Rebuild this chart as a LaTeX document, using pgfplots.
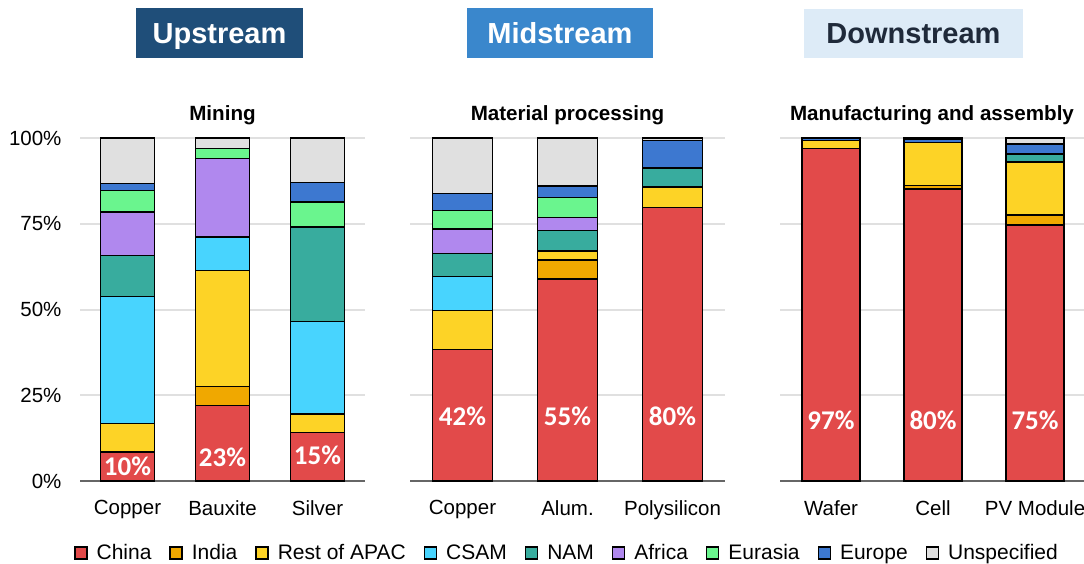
\documentclass[border=0pt]{standalone}
\usepackage{pgfplots}
\pgfplotsset{compat=1.18}
\usepackage{pgfplotstable}
\usepackage{fontspec}
\setmainfont{Liberation Sans}
\newfontfamily\carlito{Carlito}
\definecolor{cChina}{HTML}{E24A4A}
\definecolor{cIndia}{HTML}{F0A800}
\definecolor{cRoA}{HTML}{FDD326}
\definecolor{cCSAM}{HTML}{48D4FE}
\definecolor{cNAM}{HTML}{38AC9E}
\definecolor{cAfrica}{HTML}{B088EE}
\definecolor{cEurasia}{HTML}{6AF58E}
\definecolor{cEurope}{HTML}{3D78D0}
\definecolor{cUnspec}{HTML}{E0E0E0}
\definecolor{hUp}{HTML}{1F4E79}
\definecolor{hMid}{HTML}{3A87CC}
\definecolor{hDown}{HTML}{DDEBF7}
\definecolor{hDownText}{HTML}{1F2A3A}

\pgfplotstableread{
x China India RoA CSAM NAM Africa Eurasia Europe Unspec
0 8.4 0 8.3 37.1 12.0 12.6 6.3 2.1 13.2
1 22.0 5.5 33.8 9.9 0 22.8 3.0 0 3.0
2 14.2 0 5.3 27.0 27.6 0 7.3 5.6 13.0
}\mining
\pgfplotstableread{
x China India RoA CSAM NAM Africa Eurasia Europe Unspec
0 38.4 0 11.3 9.9 6.7 7.2 5.4 4.9 16.2
1 58.9 5.6 2.5 0 6.1 3.7 5.9 3.3 14.0
2 79.7 0 6.0 0 5.5 0 0 8.1 0.7
}\processing
\pgfplotstableread{
x China India RoA CSAM NAM Africa Eurasia Europe Unspec
0 97.0 0 2.3 0 0 0 0 0.5 0.2
1 85.1 1.1 12.5 0 0 0 0 0.8 0.5
2 74.6 3.0 15.4 0 2.3 0 0 2.9 1.8
}\manufacturing

\tikzset{lbl/.style={text=white, font=\carlito\bfseries\fontsize{27}{29}\selectfont}}

\pgfplotsset{
  panel/.style={
    scale only axis,
    height=343pt,
    ybar stacked,
    ymin=0, ymax=100,
    xmin=-0.5, xmax=2.5,
    ytick={0,25,50,75,100},
    xtick={0,1,2},
    major tick length=0pt,
    ymajorgrids,
    grid style={line width=2pt, color=black!12},
    axis x line*=bottom,
    axis y line*=left,
    y axis line style={draw=none},
    x axis line style={line width=1.6pt, color=black!60},
    tick label style={font=\fontsize{20.5}{24}\selectfont},
    /pgf/number format/assume math mode=true,
    xticklabel style={yshift=-16pt},
    title style={at={(0.5,1)}, anchor=center, yshift=17pt, font=\bfseries\fontsize{20.6}{24}\selectfont},
    every axis plot/.append style={draw=black, line width=1.5pt},
    legend image code/.code={\draw[#1,draw=black,line width=1.4pt] (0pt,-6pt) rectangle (12pt,6pt);},
  },
}

\newcommand{\stackplots}[1]{%
  \addplot[fill=cChina] table[x=x,y=China]{#1};
  \addplot[fill=cIndia] table[x=x,y=India]{#1};
  \addplot[fill=cRoA] table[x=x,y=RoA]{#1};
  \addplot[fill=cCSAM] table[x=x,y=CSAM]{#1};
  \addplot[fill=cNAM] table[x=x,y=NAM]{#1};
  \addplot[fill=cAfrica] table[x=x,y=Africa]{#1};
  \addplot[fill=cEurasia] table[x=x,y=Eurasia]{#1};
  \addplot[fill=cEurope] table[x=x,y=Europe]{#1};
  \addplot[fill=cUnspec] table[x=x,y=Unspec]{#1};
}

\begin{document}
\begin{tikzpicture}[x=1pt,y=1pt]
\path[use as bounding box] (0pt,0pt) rectangle (1084pt,563pt);

% headers
\tikzset{hdr/.style={minimum height=50pt, inner sep=0pt, text height=20.8pt, text depth=0pt,
      font=\bfseries\fontsize{29}{32}\selectfont}}
\node[hdr, fill=hUp, minimum width=167pt, text=white] at (219.5pt,530pt) {Upstream};
\node[hdr, fill=hMid, minimum width=186pt, text=white] at (560pt,530pt) {Midstream};
\node[hdr, fill=hDown, minimum width=219pt, minimum height=49pt, text=hDownText] at (913.5pt,529.5pt) {Downstream};

% panel 1
\begin{axis}[panel, at={(80pt,82pt)}, anchor=south west, width=285pt, bar width=54pt,
  title={Mining},
  yticklabels={0\%,25\%,50\%,75\%,100\%},
  yticklabel style={xshift=-15pt},
  xticklabels={Copper,Bauxite,Silver},
  legend columns=9,
  legend style={at={(axis description cs:0,0)}, anchor=west, xshift=-6pt, yshift=-72pt,
    draw=none, fill=none, inner sep=0pt, font=\fontsize{21}{24}\selectfont,
    /tikz/every odd column/.append style={column sep=7pt},
    /tikz/every even column/.append style={column sep=16pt}},
  legend cell align=left,
  after end axis/.append code={
    \node[lbl] at (axis cs:0,4.2) {10\%};
    \node[lbl] at (axis cs:1,7.0) {23\%};
    \node[lbl] at (axis cs:2,7.6) {15\%};
  },
]
\stackplots{\mining}
\legend{China,India,Rest of APAC,CSAM,NAM,Africa,Eurasia,Europe,Unspecified}
\end{axis}

% panel 2
\begin{axis}[panel, at={(410pt,82pt)}, anchor=south west, width=315pt, bar width=60pt,
  title={Material processing},
  yticklabels={},
  xticklabels={Copper,Alum.,Polysilicon},
  after end axis/.append code={
    \node[lbl] at (axis cs:0,19) {42\%};
    \node[lbl] at (axis cs:1,19) {55\%};
    \node[lbl] at (axis cs:2,19) {80\%};
  },
]
\stackplots{\processing}
\end{axis}

% panel 3
\begin{axis}[panel, at={(780pt,82pt)}, anchor=south west, width=304pt, bar width=58pt,
  xmax=2.48,
  title={Manufacturing and assembly},
  yticklabels={},
  xticklabels={Wafer,Cell,PV Module},
  after end axis/.append code={
    \node[lbl] at (axis cs:0,17.8) {97\%};
    \node[lbl] at (axis cs:1,17.8) {80\%};
    \node[lbl] at (axis cs:2,17.8) {75\%};
  },
]
\stackplots{\manufacturing}
\end{axis}
\end{tikzpicture}
\end{document}
